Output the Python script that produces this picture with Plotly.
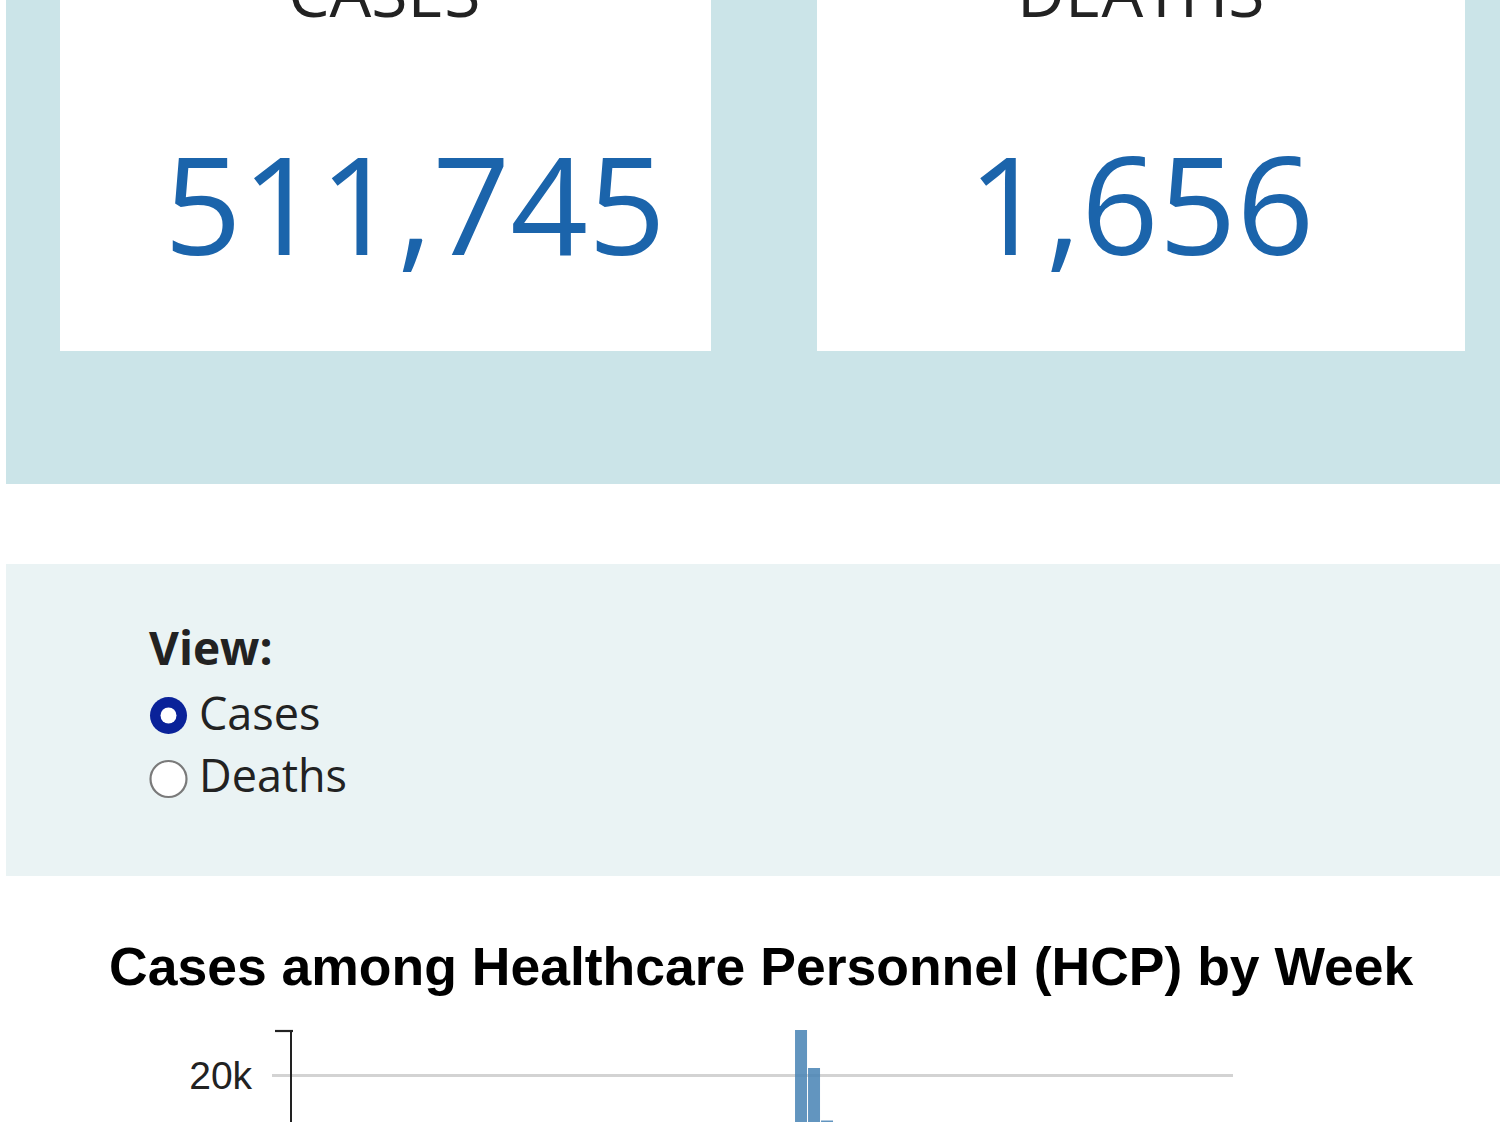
import plotly.graph_objects as go

W, H = 1500, 1122

# ---------------- data ----------------
summary_labels = ["CASES", "DEATHS"]
summary_values = [511745, 1656]
view_title = "View:"
view_options = ["Cases", "Deaths"]
chart_title = "Cases among Healthcare Personnel (HCP) by Week"
weeks = ["2020-11-29", "2020-12-06", "2020-12-13"]
hcp_cases = [22800, 20450, 17200]
y_tickvals = [20000]
y_ticktext = ["20k"]


def px(x):
    return x / W


def py(y):
    return 1 - y / H


TEAL = "#CBE4E8"
PANEL = "#EAF3F4"
BLUE = "#1b64ab"
DARK = "#222222"

fig = go.Figure()

fig.add_trace(go.Bar(
    x=weeks, y=hcp_cases,
    marker=dict(color="rgba(70,130,180,0.85)", line=dict(width=0)),
    hoverinfo="x+y",
    showlegend=False,
))

shapes = []


def rect(x0, y0, x1, y1, color):
    shapes.append(dict(type="rect", xref="paper", yref="paper",
                       x0=px(x0), x1=px(x1), y0=py(y1), y1=py(y0),
                       fillcolor=color, line=dict(width=0), layer="below"))


rect(6, 0, 1500, 484, TEAL)
rect(60, 0, 711, 351, "white")
rect(817, 0, 1465, 351, "white")
rect(6, 564, 1500, 876, PANEL)


def circle(cx, cy, r, fill, lc=None, lw=0):
    shapes.append(dict(type="circle", xref="paper", yref="paper",
                       x0=px(cx - r), x1=px(cx + r), y0=py(cy + r), y1=py(cy - r),
                       fillcolor=fill, line=dict(color=lc or fill, width=lw),
                       layer="above"))


# radio buttons
circle(168.5, 715.5, 18.5, "#0a2299")
circle(168.5, 715.5, 8, "white")
circle(168.5, 779, 18, "white", "#7a7a7a", 2.2)

# y-axis top end cap
shapes.append(dict(type="line", xref="paper", yref="paper",
                   x0=px(275), x1=px(293), y0=py(1031), y1=py(1031),
                   line=dict(color=DARK, width=2.2), layer="above"))

annotations = []


def text(t, x, y, size, family, color, xanchor="center", weight=None):
    f = dict(size=size, family=family, color=color)
    if weight is not None:
        f["weight"] = weight
    annotations.append(dict(text=t, x=px(x), y=py(y), xref="paper", yref="paper",
                            xanchor=xanchor, yanchor="middle", showarrow=False,
                            font=f))


# summary cards
text(summary_labels[0], 384, -9, 66, "Open Sans", DARK)
text(summary_labels[1], 1141, -9, 66, "Open Sans", DARK)
text(f"{summary_values[0]:,}", 415, 203, 136, "Open Sans", BLUE)
text(f"{summary_values[1]:,}", 1141, 203, 136, "Open Sans", BLUE)

# view selector
text(view_title, 147, 647, 46, "Open Sans", DARK, xanchor="left", weight=700)
text(view_options[0], 197, 712.5, 45, "Open Sans", DARK, xanchor="left")
text(view_options[1], 197, 774.5, 45, "Open Sans", DARK, xanchor="left")

# chart title
text(chart_title, 761, 966.5, 53.5, "Liberation Sans", "black", weight=700)

fig.update_layout(
    width=W, height=H,
    margin=dict(l=0, r=0, t=0, b=0),
    paper_bgcolor="white",
    plot_bgcolor="rgba(0,0,0,0)",
    shapes=shapes,
    annotations=annotations,
    bargap=1 / 13,
    xaxis=dict(domain=[px(292), px(1233)], type="date",
               range=["2020-02-28 22:05", "2021-07-19 14:24"],
               showticklabels=False, showgrid=False, zeroline=False,
               showline=False, ticks=""),
    yaxis=dict(domain=[0, py(1030)], range=[17100, 22800],
               tickvals=y_tickvals, ticktext=y_ticktext,
               showgrid=True, gridcolor="#d3d3d3", gridwidth=3,
               ticks="outside", ticklen=18, tickwidth=3, tickcolor="#d3d3d3",
               ticklabelstandoff=12,
               showline=True, linecolor=DARK, linewidth=2.2,
               zeroline=False,
               tickfont=dict(family="Liberation Sans", size=39, color=DARK)),
)

fig.write_html(
    "out.html",
    config={"displayModeBar": False},
    post_script="document.body.style.margin='0';document.body.style.overflow='hidden';",
)
